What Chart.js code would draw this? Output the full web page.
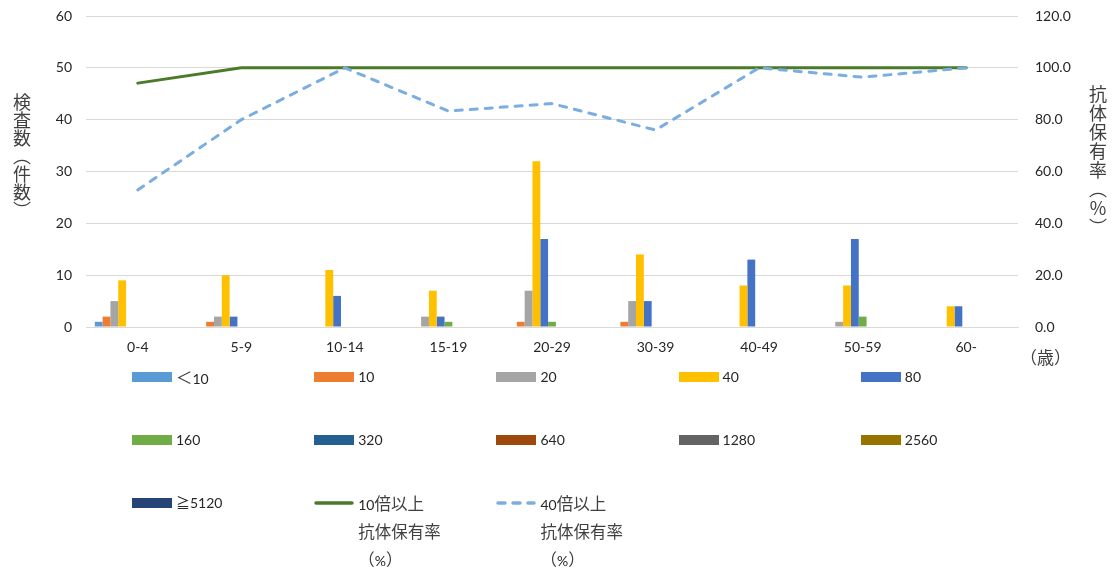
<!DOCTYPE html>
<html lang="ja">
<head>
<meta charset="utf-8">
<title>年齢群別 抗体価分布と抗体保有率</title>
<script src="https://cdn.jsdelivr.net/npm/chart.js@4/dist/chart.umd.min.js"></script>
<style>
  html, body { margin: 0; padding: 0; background: #fff; }
  #wrap { position: relative; width: 1112px; height: 567px; overflow: hidden;
          font-family: Lato, "Noto Sans CJK JP", sans-serif; color: #262626; }
  #chart { position: absolute; left: 0; top: 0; }
  .vtitle { position: absolute; writing-mode: vertical-rl; text-orientation: mixed;
            font-family: "Noto Sans CJK JP", sans-serif; font-size: 18px; line-height: 1;
            color: #404040; white-space: nowrap; }
  #unit { position: absolute; left: 1020px; top: 347px; font-family: "Noto Sans CJK JP", sans-serif;
          font-size: 17px; line-height: 1.2; color: #404040; }
  .lg-item { position: absolute; display: flex; align-items: flex-start; font-size: 14px; }
  .lg-item svg { flex: none; margin-top: 8px; }
  .lg-text { margin-left: 4px; line-height: 26px; white-space: pre-line; }
  .lg-text .cjk { font-family: "Noto Sans CJK JP", sans-serif; font-size: 16.5px; color: #404040; }
</style>
</head>
<body>
<div id="wrap">
  <canvas id="chart" width="1112" height="567"></canvas>
  <div class="vtitle" style="left:13px; top:93px;">検査数（件数）</div>
  <div class="vtitle" style="left:1089px; top:85px; letter-spacing:1px;">抗体保有率（％）</div>
  <div id="unit">（歳）</div>
  <div id="legend"></div>
</div>
<script>
// 年齢群
const ageGroups = ['0-4', '5-9', '10-14', '15-19', '20-29', '30-39', '40-49', '50-59', '60-'];

// 抗体価ごとの検査数（件数）
const titerLabels = ['＜10', '10', '20', '40', '80', '160', '320', '640', '1280', '2560', '≧5120'];
const countLt10  = [1, 0, 0, 0, 0, 0, 0, 0, 0];
const count10    = [2, 1, 0, 0, 1, 1, 0, 0, 0];
const count20    = [5, 2, 0, 2, 7, 5, 0, 1, 0];
const count40    = [9, 10, 11, 7, 32, 14, 8, 8, 4];
const count80    = [0, 2, 6, 2, 17, 5, 13, 17, 4];
const count160   = [0, 0, 0, 1, 1, 0, 0, 2, 0];
const count320   = [0, 0, 0, 0, 0, 0, 0, 0, 0];
const count640   = [0, 0, 0, 0, 0, 0, 0, 0, 0];
const count1280  = [0, 0, 0, 0, 0, 0, 0, 0, 0];
const count2560  = [0, 0, 0, 0, 0, 0, 0, 0, 0];
const countGe5120 = [0, 0, 0, 0, 0, 0, 0, 0, 0];

// 抗体保有率（%）
const rateLabel10 = '10倍以上\n抗体保有率\n（%）';
const rateLabel40 = '40倍以上\n抗体保有率\n（%）';
const rate10 = [94.1, 100.0, 100.0, 100.0, 100.0, 100.0, 100.0, 100.0, 100.0];
const rate40 = [52.9, 80.0, 100.0, 83.3, 86.2, 76.0, 100.0, 96.4, 100.0];

// 軸目盛
const countTicks = [0, 10, 20, 30, 40, 50, 60];
const rateTicks = [0, 20, 40, 60, 80, 100, 120];

const titerSeries = [countLt10, count10, count20, count40, count80, count160,
                     count320, count640, count1280, count2560, countGe5120];
const titerColors = ['#5B9BD5', '#ED7D31', '#A5A5A5', '#FFC000', '#4472C4', '#70AD47',
                     '#255E91', '#9E480E', '#636363', '#997300', '#264478'];

const barSets = titerSeries.map((vals, i) => ({
  type: 'bar',
  label: titerLabels[i],
  data: vals,
  backgroundColor: titerColors[i],
  borderWidth: 0,
  yAxisID: 'y',
  order: 2,
  categoryPercentage: 0.83,
  barPercentage: 1.0
}));

const lineSets = [
  { type: 'line', label: rateLabel10, data: rate10, borderColor: '#4B7A2A', backgroundColor: '#4B7A2A',
    borderWidth: 3, pointRadius: 0, tension: 0, yAxisID: 'y2', order: 1, clip: false,
    borderCapStyle: 'round' },
  { type: 'line', label: rateLabel40, data: rate40, borderColor: '#7BAEE0', backgroundColor: '#7BAEE0',
    borderWidth: 3, borderDash: [7, 8], borderCapStyle: 'round', pointRadius: 0, tension: 0,
    yAxisID: 'y2', order: 0, clip: false }
];

const tickFont = { family: 'Lato, "Noto Sans CJK JP", sans-serif', size: 14 };
const tickColor = '#262626';
const gridGray = '#D9D9D9';

// 縦軸の幅を固定し、上下の余白は layout.padding のみで決める
function fixVertical(width) {
  return s => { s.width = width; s.paddingTop = 0; s.paddingBottom = 0; };
}

const chart = new Chart(document.getElementById('chart'), {
  data: { labels: ageGroups, datasets: [...barSets, ...lineSets] },
  options: {
    responsive: false,
    animation: false,
    devicePixelRatio: 1,
    layout: { padding: { top: 16, left: 0, right: 0, bottom: 0 } },
    plugins: { legend: { display: false }, tooltip: { enabled: false } },
    scales: {
      x: {
        grid: { display: false, drawTicks: false },
        border: { display: true, color: gridGray, width: 1 },
        ticks: { font: tickFont, color: tickColor, padding: 12, maxRotation: 0 },
        afterFit: s => { s.height = 240; s.paddingLeft = 0; s.paddingRight = 0; }
      },
      y: {
        position: 'left',
        min: countTicks[0], max: countTicks[countTicks.length - 1],
        afterBuildTicks: s => { s.ticks = countTicks.map(v => ({ value: v })); },
        grid: { color: gridGray, lineWidth: 1, drawTicks: false },
        border: { display: false },
        ticks: { font: tickFont, color: tickColor, padding: 14 },
        afterFit: fixVertical(86)
      },
      y2: {
        position: 'right',
        min: rateTicks[0], max: rateTicks[rateTicks.length - 1],
        afterBuildTicks: s => { s.ticks = rateTicks.map(v => ({ value: v })); },
        grid: { display: false, drawTicks: false },
        border: { display: false },
        ticks: { font: tickFont, color: tickColor, padding: 17, callback: v => Number(v).toFixed(1) },
        afterFit: fixVertical(94)
      }
    }
  }
});

// 凡例（5列グリッド）
function appendLabel(el, text) {
  // 漢字・全角記号は和文フォントで少し大きく表示する
  const parts = text.split(/([\u3000-\u30FF\u4E00-\u9FFF\uFF01-\uFF5E]+)/);
  parts.forEach(p => {
    if (!p) return;
    if (/[\u3000-\u30FF\u4E00-\u9FFF\uFF01-\uFF5E]/.test(p)) {
      const s = document.createElement('span');
      s.className = 'cjk';
      s.textContent = p;
      el.appendChild(s);
    } else {
      el.appendChild(document.createTextNode(p));
    }
  });
}

function buildLegend(c) {
  const box = document.getElementById('legend');
  box.innerHTML = '';
  c.data.datasets.forEach((ds, i) => {
    const col = i % 5, row = Math.floor(i / 5);
    const item = document.createElement('div');
    item.className = 'lg-item';
    item.style.left = (132 + col * 182.2) + 'px';
    item.style.top = (377 + row * 63 - 13) + 'px';
    const ns = 'http://www.w3.org/2000/svg';
    const svg = document.createElementNS(ns, 'svg');
    svg.setAttribute('width', '40');
    svg.setAttribute('height', '10');
    if (ds.type === 'bar') {
      const r = document.createElementNS(ns, 'rect');
      r.setAttribute('x', '0'); r.setAttribute('y', '0');
      r.setAttribute('width', '40'); r.setAttribute('height', '10');
      r.setAttribute('fill', ds.backgroundColor);
      svg.appendChild(r);
    } else {
      const l = document.createElementNS(ns, 'line');
      l.setAttribute('x1', '2'); l.setAttribute('x2', '38');
      l.setAttribute('y1', '5'); l.setAttribute('y2', '5');
      l.setAttribute('stroke', ds.borderColor);
      l.setAttribute('stroke-width', '3.5');
      l.setAttribute('stroke-linecap', 'round');
      if (ds.borderDash) l.setAttribute('stroke-dasharray', ds.borderDash.join(' '));
      svg.appendChild(l);
    }
    const t = document.createElement('div');
    t.className = 'lg-text';
    appendLabel(t, ds.label);
    item.appendChild(svg);
    item.appendChild(t);
    box.appendChild(item);
  });
}
buildLegend(chart);
</script>
</body>
</html>
